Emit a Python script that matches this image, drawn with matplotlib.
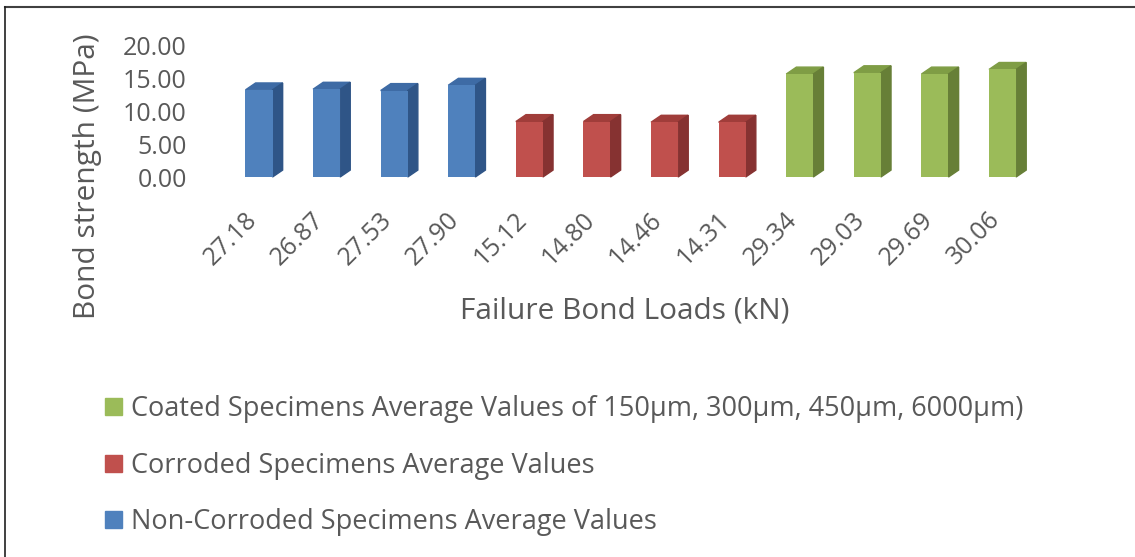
import matplotlib.pyplot as plt
from matplotlib.patches import Polygon, Patch
from matplotlib.lines import Line2D
from matplotlib.transforms import ScaledTranslation

plt.rcParams['font.family'] = ['Open Sans', 'DejaVu Sans']

# Données
load_labels = ['27.18', '26.87', '27.53', '27.90',
               '15.12', '14.80', '14.46', '14.31',
               '29.34', '29.03', '29.69', '30.06']
non_corroded = [13.2, 13.3, 13.1, 13.9]
corroded = [8.4, 8.4, 8.3, 8.3]
coated = [15.6, 15.8, 15.6, 16.3]

series_names = ['Non-Corroded Specimens Average Values',
                'Corroded Specimens Average Values',
                'Coated Specimens Average Values of 150µm, 300µm, 450µm, 6000µm)']
# couleurs (face, dessus, côté)
series_colors = [('#4F81BD', '#3E6BA5', '#2F5587'),
                 ('#C0504D', '#A03D3A', '#863231'),
                 ('#9BBB59', '#7F9D45', '#677F37')]

txt = '#595959'
fig = plt.figure(figsize=(11.35, 5.57), dpi=100)
ax = fig.add_axes([0.1865, 0.6822, 0.7385, 0.237])

width = 0.4
dx, dy = 0.15, 1.05   # profondeur 3D en unités de données

values = non_corroded + corroded + coated
groups = [0] * len(non_corroded) + [1] * len(corroded) + [2] * len(coated)
xs = list(range(len(values)))

for x, v, g in zip(xs, values, groups):
    front, top, side = series_colors[g]
    ax.bar(x, v, width=width, color=front, zorder=3, clip_on=False)
    l, r = x - width / 2, x + width / 2
    ax.add_patch(Polygon([(l, v), (r, v), (r + dx, v + dy), (l + dx, v + dy)],
                         closed=True, color=top, zorder=2, clip_on=False))
    ax.add_patch(Polygon([(r, 0), (r + dx, dy), (r + dx, v + dy), (r, v)],
                         closed=True, color=side, zorder=2, clip_on=False))

ax.set_xlim(-0.7, 11.7)
ax.set_ylim(0, 20)
ax.set_yticks([0, 5, 10, 15, 20])
ax.set_yticklabels(['%.2f' % t for t in [0, 5, 10, 15, 20]])
ax.set_xticks(xs)
ax.set_xticklabels(load_labels, rotation=45, ha='right', va='center',
                   rotation_mode='anchor')
ax.tick_params(axis='y', length=0, pad=18, labelsize=18, labelcolor=txt)
ax.tick_params(axis='x', length=0, pad=28, labelsize=18, labelcolor=txt)
shift = ScaledTranslation(-0.06, 0, fig.dpi_scale_trans)
for lab in ax.get_xticklabels():
    lab.set_transform(lab.get_transform() + shift)
for s in ax.spines.values():
    s.set_visible(False)

fig.text(0.5505, 0.4417, 'Failure Bond Loads (kN)', fontsize=21.5, color=txt,
         ha='center', va='center')
fig.text(0.077, 0.683, 'Bond strength (MPa)', rotation=90, fontsize=21.5, color=txt,
         ha='center', va='center')

handles = [Patch(color=series_colors[i][0]) for i in [2, 1, 0]]
labels = [series_names[i] for i in [2, 1, 0]]
fig.legend(handles, labels, loc='upper left', bbox_to_anchor=(0.071, 0.334),
           frameon=False, fontsize=19.5, labelcolor=txt, handlelength=0.62,
           handleheight=0.6, handletextpad=0.35, labelspacing=1.05)

# bordure (haut et gauche seulement)
fig.add_artist(Line2D([0.004, 1.0], [0.987, 0.987], color='#404040', lw=1.5,
                      transform=fig.transFigure))
fig.add_artist(Line2D([0.0048, 0.0048], [0.0, 0.987], color='#202020', lw=1.2,
                      transform=fig.transFigure))

plt.savefig('out.png')
